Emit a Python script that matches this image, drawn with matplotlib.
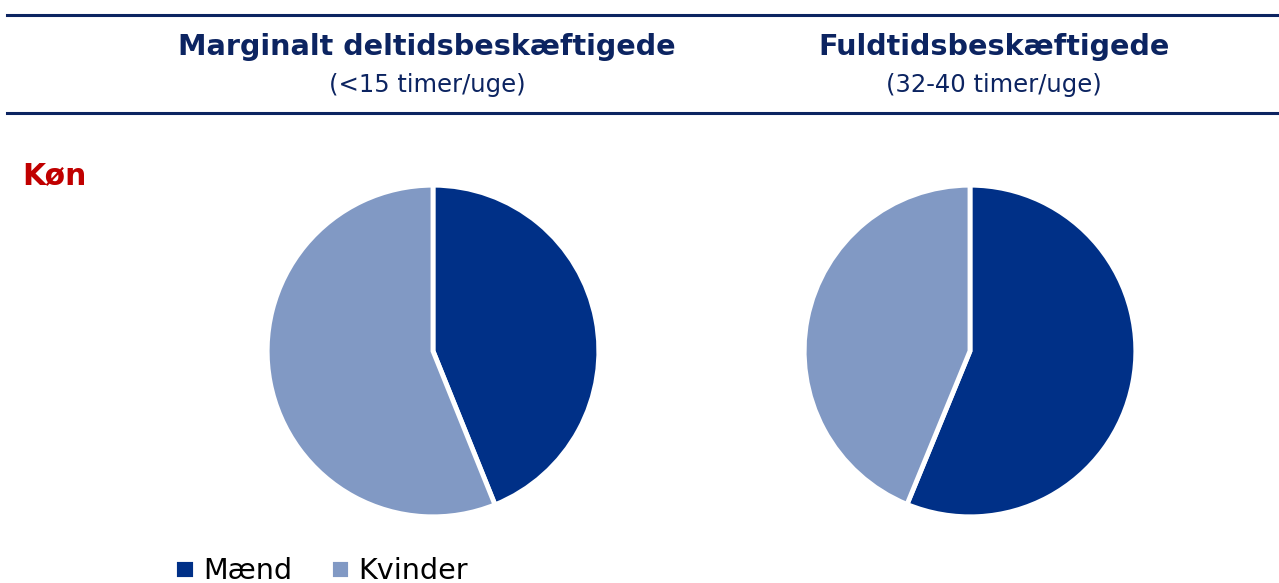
import matplotlib.pyplot as plt
from matplotlib.lines import Line2D

labels = ["Mænd", "Kvinder"]
deltid = [43.9, 56.1]
fuldtid = [56.2, 43.8]
colors = ["#003087", "#8199C4"]

navy = "#0C2461"

fig = plt.figure(figsize=(12.79, 5.83), dpi=100)

# horizontal rules
for y in [1 - 15 / 583, 1 - 113 / 583]:
    fig.add_artist(Line2D([7 / 1279, 1], [y, y], color=navy, lw=2.2,
                          transform=fig.transFigure))

# column headers
fig.text(427 / 1279, 1 - 47 / 583, "Marginalt deltidsbeskæftigede", ha="center",
         va="center", fontsize=20.6, fontweight="bold", color=navy)
fig.text(427 / 1279, 1 - 85 / 583, "(<15 timer/uge)", ha="center", va="center",
         fontsize=17.5, color=navy)
fig.text(994 / 1279, 1 - 47 / 583, "Fuldtidsbeskæftigede", ha="center",
         va="center", fontsize=20.6, fontweight="bold", color=navy)
fig.text(994 / 1279, 1 - 85 / 583, "(32-40 timer/uge)", ha="center", va="center",
         fontsize=17.5, color=navy)

fig.text(22 / 1279, 1 - 176 / 583, "Køn", ha="left", va="center",
         fontsize=21.5, fontweight="bold", color="#C00000")

# pies
w, h = 330 / 1279, 330 / 583
wedges = None
for cx, vals in [(433, deltid), (970, fuldtid)]:
    ax = fig.add_axes([cx / 1279 - w / 2, 232 / 583 - h / 2, w, h])
    wd, _ = ax.pie(vals, colors=colors, startangle=90, counterclock=False,
                   wedgeprops=dict(edgecolor="white", linewidth=3.5))
    ax.set_xlim(-0.995, 0.995)
    ax.set_ylim(-0.995, 0.995)
    ax.set_aspect("equal")
    if wedges is None:
        wedges = wd

fig.legend(wedges, labels, loc="center left", bbox_to_anchor=(174 / 1279, 12 / 583),
           ncol=2, frameon=False, fontsize=20.6, handlelength=0.72, handleheight=0.72,
           handletextpad=0.3, columnspacing=1.3, borderpad=0, borderaxespad=0)

fig.savefig("out.png", dpi=100)
